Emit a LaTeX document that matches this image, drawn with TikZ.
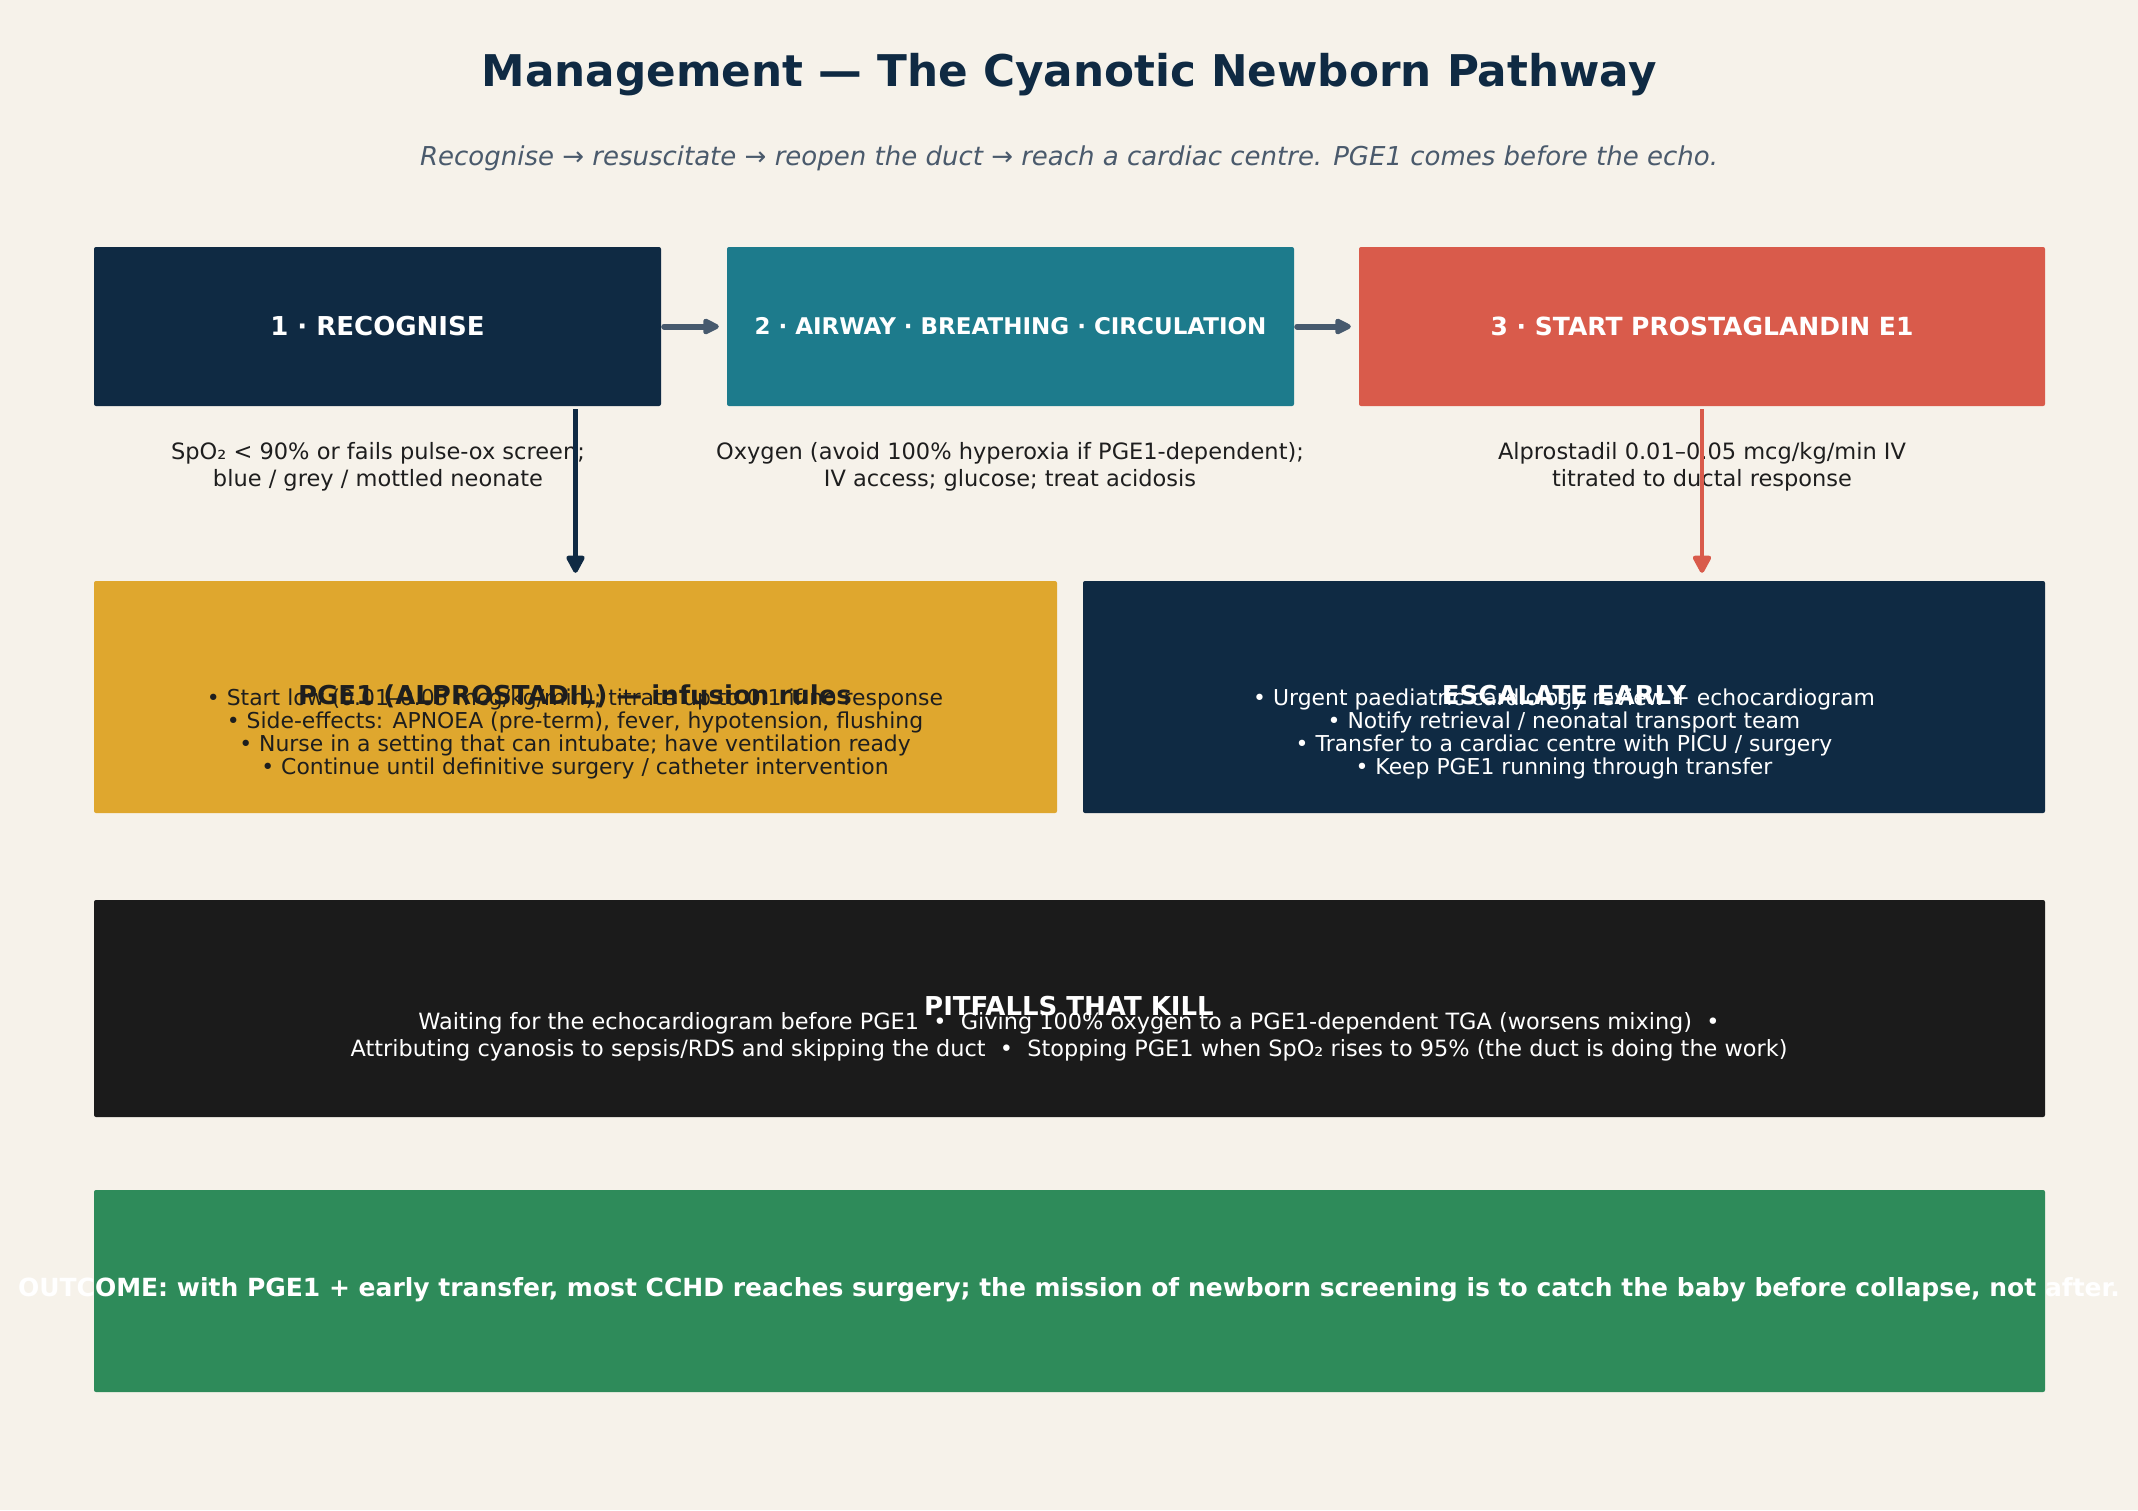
\documentclass[tikz,border=0pt]{standalone}
\usepackage{fontspec}
\setmainfont{DejaVu Sans}
\usetikzlibrary{arrows.meta}
\definecolor{bg}{HTML}{F6F2EA}
\definecolor{navy}{HTML}{0F2A43}
\definecolor{teal}{HTML}{1D7B8C}
\definecolor{coral}{HTML}{D95B4B}
\definecolor{mustard}{HTML}{DFA72E}
\definecolor{ink}{HTML}{1B1B1B}
\definecolor{grn}{HTML}{2E8B5A}
\definecolor{subgray}{HTML}{4A5A6C}
\definecolor{arrgray}{HTML}{475A6E}
\definecolor{txt}{HTML}{1E1E1E}
\tikzset{
  box/.style={rectangle, rounded corners=2pt, inner sep=0pt},
  hdr/.style={font=\bfseries\fontsize{26}{30}\selectfont, text=white},
  captext/.style={font=\fontsize{22.5}{27}\selectfont, text=txt, align=center},
  bul/.style={font=\fontsize{21.9}{23}\selectfont, align=center},
  sect/.style={font=\bfseries\fontsize{26}{30}\selectfont},
  flow/.style={line width=6pt, draw=arrgray, line cap=round, -{Triangle[length=19pt,width=17pt,round]}},
  down/.style={line width=4.5pt, -{Triangle[length=20pt,width=20pt,round]}}
}
\begin{document}
\begin{tikzpicture}[x=1pt,y=-1pt]
\fill[bg] (0,0) rectangle (2138,1510);
\useasboundingbox (0,0) rectangle (2138,1510);

\node[font=\bfseries\fontsize{43.7}{50}\selectfont, text=navy] (title) at (1069,75) {Management — The Cyanotic Newborn Pathway};
\node[font=\itshape\fontsize{26}{30}\selectfont, text=subgray] (sub) at (1069,158) {Recognise → resuscitate → reopen the duct → reach a cardiac centre. PGE1 comes before the echo.};

% row 1
\node[box, fill=navy, minimum width=567pt, minimum height=159pt] (b1) at (377.5,326.5) {};
\node[box, fill=teal, minimum width=567pt, minimum height=159pt] (b2) at (1010.5,326.5) {};
\node[box, fill=coral, minimum width=686pt, minimum height=159pt] (b3) at (1702,326.5) {};
\node[hdr] (h1) at (b1.center) {1 · RECOGNISE};
\node[hdr, font=\bfseries\fontsize{23}{27}\selectfont] (h2) at (b2.center) {2 · AIRWAY · BREATHING · CIRCULATION};
\node[hdr, font=\bfseries\fontsize{25}{29}\selectfont] (h3) at (b3.center) {3 · START PROSTAGLANDIN E1};

\node[captext] (c1) at (378,467) {SpO₂ < 90\% or fails pulse-ox screen;\\blue / grey / mottled neonate};
\node[captext] (c2) at (1010,467) {Oxygen (avoid 100\% hyperoxia if PGE1-dependent);\\IV access; glucose; treat acidosis};
\node[captext] (c3) at (1702,467) {Alprostadil 0.01–0.05 mcg/kg/min IV\\titrated to ductal response};

% row 2
\node[box, fill=mustard, minimum width=963pt, minimum height=232pt] (pa) at (575.5,697) {};
\node[box, fill=navy, minimum width=962pt, minimum height=232pt] (eb) at (1564,697) {};
\node[sect, text=txt] (pat) at (575,696) {PGE1 (ALPROSTADIL) — infusion rules};
\node[bul, text=txt] (pab) at (575,734) {• Start low (0.01–0.05 mcg/kg/min); titrate up to 0.1 if no response\\• Side-effects: APNOEA (pre-term), fever, hypotension, flushing\\• Nurse in a setting that can intubate; have ventilation ready\\• Continue until definitive surgery / catheter intervention};
\node[sect, text=white] (ebt) at (1564,695) {ESCALATE EARLY};
\node[bul, text=white] (ebb) at (1564,734) {• Urgent paediatric cardiology review + echocardiogram\\• Notify retrieval / neonatal transport team\\• Transfer to a cardiac centre with PICU / surgery\\• Keep PGE1 running through transfer};

% pitfalls
\node[box, fill=ink, minimum width=1951pt, minimum height=217pt] (pf) at (1069.5,1008.5) {};
\node[sect, text=white] (pft) at (1069,1006) {PITFALLS THAT KILL};
\node[font=\fontsize{22.4}{27}\selectfont, text=white, align=center] (pfb) at (1069,1037) {Waiting for the echocardiogram before PGE1 \ • \ Giving 100\% oxygen to a PGE1-dependent TGA (worsens mixing) \ •\\Attributing cyanosis to sepsis/RDS and skipping the duct \ • \ Stopping PGE1 when SpO₂ rises to 95\% (the duct is doing the work)};

% outcome
\node[box, fill=grn, minimum width=1951pt, minimum height=202pt] (oc) at (1069.5,1291) {};
\node[font=\bfseries\fontsize{25}{29}\selectfont, text=white] (oct) at (1069,1290) {OUTCOME: with PGE1 + early transfer, most CCHD reaches surgery; the mission of newborn screening is to catch the baby before collapse, not after.};

% connectors
\draw[flow, shorten <=3pt, shorten >=8pt] (b1.east) -- (b2.west);
\draw[flow, shorten <=3pt, shorten >=8pt] (b2.east) -- (b3.west);
\draw[down, draw=navy, shorten >=8pt, shorten <=3pt] (b1.south -| pa.north) -- (pa.north);
\draw[down, draw=coral, shorten >=8pt, shorten <=3pt] (b3.south) -- (b3.south |- eb.north);
\end{tikzpicture}
\end{document}
